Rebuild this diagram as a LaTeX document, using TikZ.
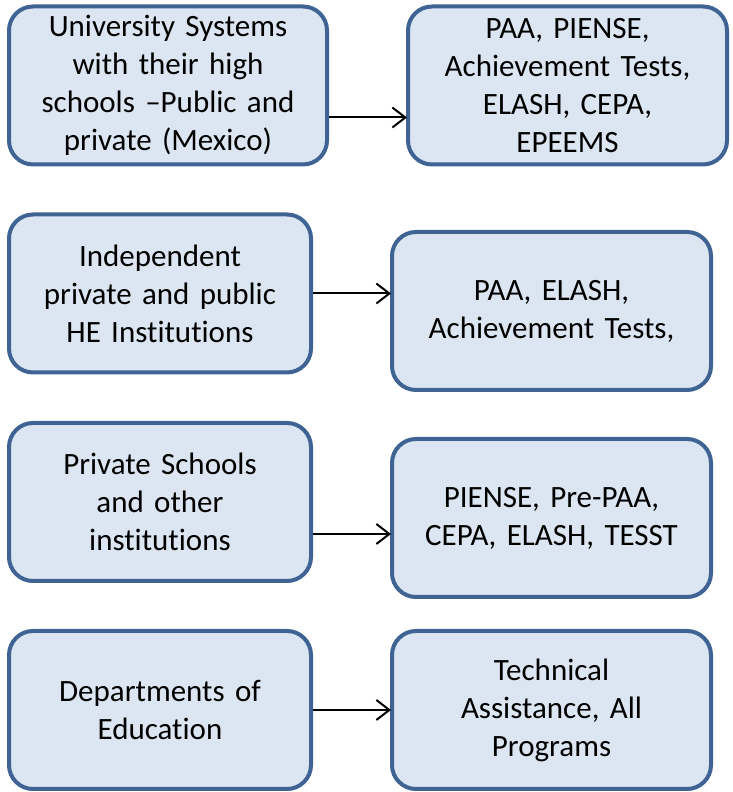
\documentclass[tikz,border=0pt]{standalone}
\usepackage{fontspec}
\setmainfont{Carlito}[Ligatures=NoCommon]
\usepackage{tikz}
\usetikzlibrary{arrows.meta,positioning}
\definecolor{boxline}{HTML}{3F6392}
\definecolor{boxfill}{HTML}{DCE6F2}

\tikzset{
    entry/.style={draw=boxline, fill=boxfill, line width=4pt, rounded corners=24pt,
        align=center, inner sep=0pt, minimum height=158pt,
        font=\fontsize{31}{38}\selectfont},
    offer/.style={entry, minimum width=319pt, text width=310pt},
    link/.style={line width=2pt, -{Straight Barb[length=13pt,width=20pt]}, shorten >=-1pt}
}

\begin{document}
\begin{tikzpicture}[x=1pt,y=1pt]
            \useasboundingbox (0,0) rectangle (732,792);

            % Who takes the tests
            \node[entry, minimum width=318pt, text width=310pt] (univ) at (168,706.5)
                {University Systems\\with their high\\schools --Public and\\private (Mexico)};
            \node[entry, minimum width=302pt, text width=295pt] (indep) at (160,498.5)
                {Independent\\private and public\\HE Institutions};
            \node[entry, minimum width=302pt, text width=295pt] (priv) at (160,290)
                {Private Schools\\and other\\institutions};
            \node[entry, minimum width=302pt, text width=295pt] (dept) at (160,82)
                {Departments of\\Education};

            % What they get
            \node[offer] (univtests) at (567.5,706.5)
                {PAA, PIENSE,\\Achievement Tests,\\ELASH, CEPA,\\EPEEMS};
            \node[offer] (indeptests) at (551.5,481)
                {PAA, ELASH,\\Achievement Tests,};
            \node[offer] (privtests) at (551.5,274)
                {PIENSE, Pre-PAA,\\CEPA, ELASH, TESST};
            \node[offer] (depttests) at (551.5,82)
                {Technical\\Assistance, All\\Programs};

            \draw[link] ([yshift=-32pt]univ.east) -- ([yshift=-32pt]univ.east -| univtests.west);
            \draw[link] (indep.east) -- (indep.east -| indeptests.west);
            \draw[link] ([yshift=-32pt]priv.east) -- ([yshift=-32pt]priv.east -| privtests.west);
            \draw[link] (dept.east) -- (depttests.west);
        \end{tikzpicture}
\end{document}
